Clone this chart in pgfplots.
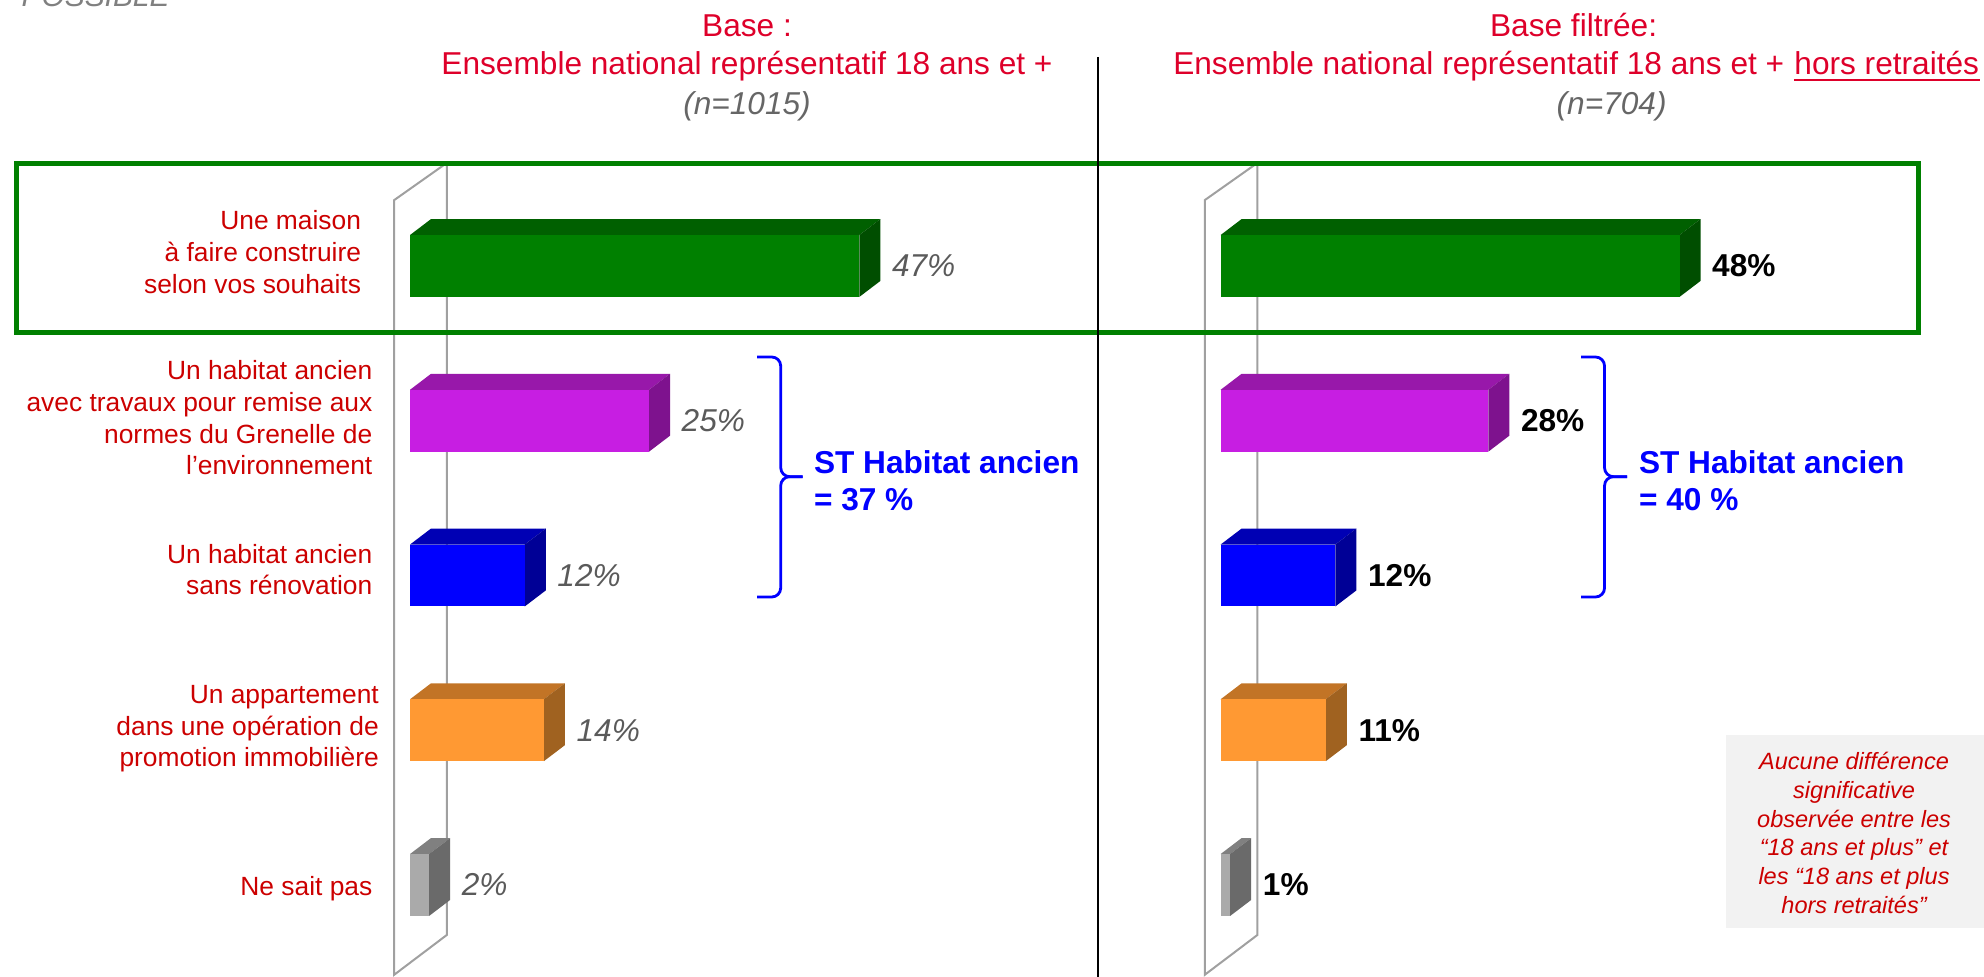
\documentclass[border=0pt]{standalone}
\usepackage{pgfplots}
\pgfplotsset{compat=1.18}
\usepackage{pgfplotstable}
\usepackage{fontspec}
\setmainfont{Liberation Sans}

\definecolor{titred}{RGB}{222,0,42}
\definecolor{labred}{RGB}{204,0,0}
\definecolor{nbgrey}{RGB}{102,102,102}
\definecolor{valgrey}{RGB}{90,90,90}
\definecolor{wallgrey}{RGB}{160,160,160}
\definecolor{hlgreen}{RGB}{0,128,0}
\definecolor{stblue}{RGB}{0,0,255}
\definecolor{notebg}{RGB}{242,242,242}
% bar faces: front / top / side, one set per row
\definecolor{c0front}{RGB}{0,128,0}    \definecolor{c0top}{RGB}{0,96,0}     \definecolor{c0side}{RGB}{0,78,0}
\definecolor{c1front}{RGB}{199,30,226} \definecolor{c1top}{RGB}{152,24,170} \definecolor{c1side}{RGB}{126,18,142}
\definecolor{c2front}{RGB}{0,0,255}    \definecolor{c2top}{RGB}{0,0,180}    \definecolor{c2side}{RGB}{0,0,150}
\definecolor{c3front}{RGB}{255,153,51} \definecolor{c3top}{RGB}{194,116,38} \definecolor{c3side}{RGB}{160,98,32}
\definecolor{c4front}{RGB}{170,170,170}\definecolor{c4top}{RGB}{128,128,128}\definecolor{c4side}{RGB}{106,106,106}

\newcommand\ftitle{\fontsize{9}{11}\selectfont}
\newcommand\flab{\fontsize{7.5}{9}\selectfont}
\newcommand\fnote{\fontsize{6.7}{8.2}\selectfont\itshape}

% row = category (0 = top), val = percent
\pgfplotstableread{
row val
0 47
1 25
2 12
3 14
4 2
}\leftdata
\pgfplotstableread{
row val
0 48
1 28
2 12
3 11
4 1
}\rightdata

% pseudo-3D bar: #1 row, #2 value, #3 colour prefix
\newcommand{\cube}[3]{%
  \pgfmathsetmacro{\ya}{#1-0.2}%
  \pgfmathsetmacro{\yb}{#1+0.2}%
  \pgfmathsetmacro{\yc}{#1-0.3034}%
  \pgfmathsetmacro{\yd}{#1+0.0966}%
  \pgfmathsetmacro{\xv}{#2}%
  \pgfmathsetmacro{\xe}{#2+2.2}%
  \edef\doplots{%
    \noexpand\addplot[draw=none, fill=#3top] coordinates {(0,\ya) (2.2,\yc) (\xe,\yc) (\xv,\ya)};
    \noexpand\addplot[draw=none, fill=#3side] coordinates {(\xv,\ya) (\xe,\yc) (\xe,\yd) (\xv,\yb)};
    \noexpand\addplot[draw=none, fill=#3front] coordinates {(0,\ya) (\xv,\ya) (\xv,\yb) (0,\yb)};
  }\doplots
}
% value label right of the bar: #1 row, #2 value, #3 style name
\newcommand{\vlabel}[3]{%
  \pgfmathsetmacro{\xl}{#2+2.2}%
  \edef\dolabel{\noexpand\node[#3] at (axis cs:\xl,#1) {#2\noexpand\%};}\dolabel
}

\tikzset{
  vallab/.style={anchor=west, inner sep=0pt, xshift=1.1mm},
  vallabL/.style={vallab, font=\ftitle\itshape, text=valgrey},
  vallabR/.style={vallab, font=\ftitle\bfseries, text=black},
}
\pgfplotsset{
  panel/.style={
    scale only axis, width=57.36mm, height=86.66mm,
    xmin=-6, xmax=54, ymin=-1, ymax=4.6, y dir=reverse,
    hide axis, clip=false},
  wall/.style={draw=wallgrey, line width=0.2mm},
}

\begin{document}
\begin{tikzpicture}
\path[use as bounding box] (0,0) rectangle (198.4mm,-97.7mm);

% ---------- left panel
\begin{axis}[panel, at={(35.264mm,-11.125mm)}, anchor=north west]
  \addplot[wall] coordinates {(3.85,-0.666) (3.85,4.323) (-1.65,4.58) (-1.65,-0.426) (3.85,-0.666)};
  \pgfplotsinvokeforeach{0,...,4}{%
    \pgfplotstablegetelem{#1}{val}\of{\leftdata}%
    \edef\barval{\pgfplotsretval}%
    \cube{#1}{\barval}{c#1}%
    \vlabel{#1}{\barval}{vallabL}%
  }
\end{axis}

% ---------- right panel
\begin{axis}[panel, at={(116.324mm,-11.125mm)}, anchor=north west]
  \addplot[wall] coordinates {(3.85,-0.666) (3.85,4.323) (-1.65,4.58) (-1.65,-0.426) (3.85,-0.666)};
  \pgfplotsinvokeforeach{0,...,4}{%
    \pgfplotstablegetelem{#1}{val}\of{\rightdata}%
    \edef\barval{\pgfplotsretval}%
    \cube{#1}{\barval}{c#1}%
    \vlabel{#1}{\barval}{vallabR}%
  }
\end{axis}

% ---------- annotations, in pixel units of the reference
\begin{scope}[x=0.1mm, y=-0.1mm, every node/.style={inner sep=0pt}]
  \node[anchor=base west, text=gray, font=\fontsize{8.5}{10}\selectfont\itshape] at (21,6.5) {POSSIBLE};

  \draw[hlgreen, line width=0.5mm] (16,164) rectangle (1918,333);
  \draw[black, line width=0.22mm] (1098.3,57) -- (1098.3,985);

  % titles
  \node[anchor=base, text=titred, font=\ftitle] at (747,36.7) {Base :};
  \node[anchor=base, text=titred, font=\ftitle] at (747,75) {Ensemble national représentatif 18 ans et +};
  \node[anchor=base, text=nbgrey, font=\ftitle\itshape] at (747,115) {(n=1015)};
  \node[anchor=base, text=titred, font=\ftitle] at (1573.6,36.7) {Base filtrée:};
  \node[anchor=base east, text=titred, font=\ftitle] at (1785,75) {Ensemble national représentatif 18 ans et +};
  \node[anchor=base west, text=titred, font=\ftitle] (hr) at (1793.7,75) {hors retraités};
  \draw[titred, line width=0.25mm] ([yshift=-0.5mm]hr.base west) -- ([yshift=-0.5mm]hr.base east);
  \node[anchor=base, text=nbgrey, font=\ftitle\itshape] at (1611.6,115) {(n=704)};

  % category labels
  \begin{scope}[every node/.append style={anchor=base east, text=labred, font=\flab}]
    \node at (361.7,230) {Une maison};
    \node at (361.7,261.7) {à faire construire};
    \node at (361.7,293.3) {selon vos souhaits};
    \node at (373,380) {Un habitat ancien};
    \node at (373,411.7) {avec travaux pour remise aux};
    \node at (373,443.3) {normes du Grenelle de};
    \node at (373,475) {l’environnement};
    \node at (373,563.3) {Un habitat ancien};
    \node at (373,595) {sans rénovation};
    \node at (379.5,703.3) {Un appartement};
    \node at (379.5,735) {dans une opération de};
    \node at (379.5,766.7) {promotion immobilière};
    \node at (373,895) {Ne sait pas};
  \end{scope}

  % braces and subtotals
  \draw[stblue, line width=0.28mm, rounded corners=0.9mm] (757,357) -- (780.7,357) -- (780.7,476.7) -- (802.7,476.7);
  \draw[stblue, line width=0.28mm, rounded corners=0.9mm] (802.7,476.7) -- (780.7,476.7) -- (780.7,597) -- (757,597);
  \node[anchor=base west, text=stblue, font=\ftitle\bfseries] at (813.3,473.3) {ST Habitat ancien};
  \node[anchor=base west, text=stblue, font=\ftitle\bfseries] at (813.3,510.7) {= 37 \%};
  \draw[stblue, line width=0.28mm, rounded corners=0.9mm] (1581,357) -- (1604.5,357) -- (1604.5,476.7) -- (1627,476.7);
  \draw[stblue, line width=0.28mm, rounded corners=0.9mm] (1627,476.7) -- (1604.5,476.7) -- (1604.5,597) -- (1581,597);
  \node[anchor=base west, text=stblue, font=\ftitle\bfseries] at (1638.3,473.3) {ST Habitat ancien};
  \node[anchor=base west, text=stblue, font=\ftitle\bfseries] at (1638.3,510.7) {= 40 \%};

  % note box
  \fill[notebg] (1726,735) rectangle (1984,928);
  \node[align=center, text=labred, font=\fnote] at (1854,833)
    {Aucune différence\\significative\\observée entre les\\“18 ans et plus” et\\les “18 ans et plus\\hors retraités”};
\end{scope}
\end{tikzpicture}
\end{document}
